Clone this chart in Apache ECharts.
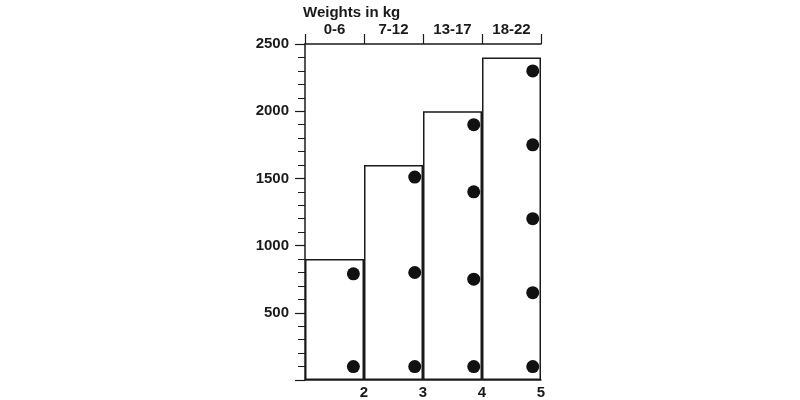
<!DOCTYPE html>
<html><head><meta charset="utf-8">
<script src="https://cdn.jsdelivr.net/npm/echarts@6/dist/echarts.min.js"></script>
<style>html,body{margin:0;padding:0;background:#fff}#c{width:800px;height:400px}</style>
</head><body><div id="c"></div>
<script>
const ageGroups = ['0-6', '7-12', '13-17', '18-22'];
const boxHeights = [900, 1600, 2000, 2400];
const bottomTicks = [1, 2, 3, 4, 5];
const dotsGroup1 = [[1.82, 790], [1.82, 100]];
const dotsGroup2 = [[2.86, 1510], [2.86, 800], [2.86, 100]];
const dotsGroup3 = [[3.86, 1900], [3.86, 1400], [3.86, 750], [3.86, 100]];
const dotsGroup4 = [[4.86, 2300], [4.86, 1750], [4.86, 1200], [4.86, 650], [4.86, 100]];
const axisTitle = 'Weights in kg';

const ink = '#1a1a1a';
const font = 'Liberation Sans, Arial, Helvetica, sans-serif';
const chart = echarts.init(document.getElementById('c'));
chart.setOption({
  animation: false,
  backgroundColor: '#fff',
  title: { text: axisTitle, left: 298, top: 0,
    textStyle: { fontFamily: font, fontWeight: 'bold', fontSize: 15, color: ink } },
  grid: { left: 305, right: 259, top: 44, bottom: 20 },
  xAxis: [
    { type: 'value', min: bottomTicks[0], max: bottomTicks[bottomTicks.length - 1], interval: 1,
      position: 'bottom', splitLine: { show: false },
      axisLine: { show: true, lineStyle: { color: ink, width: 1.5 } },
      axisTick: { show: false },
      axisLabel: { showMinLabel: false, margin: 5, fontFamily: font, fontWeight: 'bold', fontSize: 15, color: ink,
        formatter: v => String(v) } },
    { type: 'category', data: ageGroups, position: 'top', boundaryGap: true,
      axisLine: { show: true, lineStyle: { color: ink, width: 1.5 } },
      axisTick: { show: true, length: 10, lineStyle: { color: ink, width: 1.2 } },
      axisLabel: { margin: 7, fontFamily: font, fontWeight: 'bold', fontSize: 15, color: ink } }
  ],
  yAxis: { type: 'value', min: 0, max: 2500, interval: 500,
    splitLine: { show: false },
    axisLine: { show: true, lineStyle: { color: ink, width: 1.5 } },
    axisTick: { show: true, length: 10, lineStyle: { color: ink, width: 1.2 } },
    minorTick: { show: true, splitNumber: 5, length: 7, lineStyle: { color: ink, width: 1 } },
    axisLabel: { showMinLabel: false, margin: 16, fontFamily: font, fontWeight: 'bold', fontSize: 15, color: ink,
      formatter: v => String(v) } },
  series: [
    { type: 'bar', xAxisIndex: 1, data: boxHeights, barWidth: '100%', barCategoryGap: 0,
      itemStyle: { color: 'rgba(255,255,255,0)', borderColor: ink, borderWidth: 1.5 }, z: 1 },
    ...[dotsGroup1, dotsGroup2, dotsGroup3, dotsGroup4].map(d => ({
      type: 'scatter', xAxisIndex: 0, data: d, symbolSize: 13,
      itemStyle: { color: '#111', opacity: 1 }, z: 3 }))
  ]
});
</script></body></html>
